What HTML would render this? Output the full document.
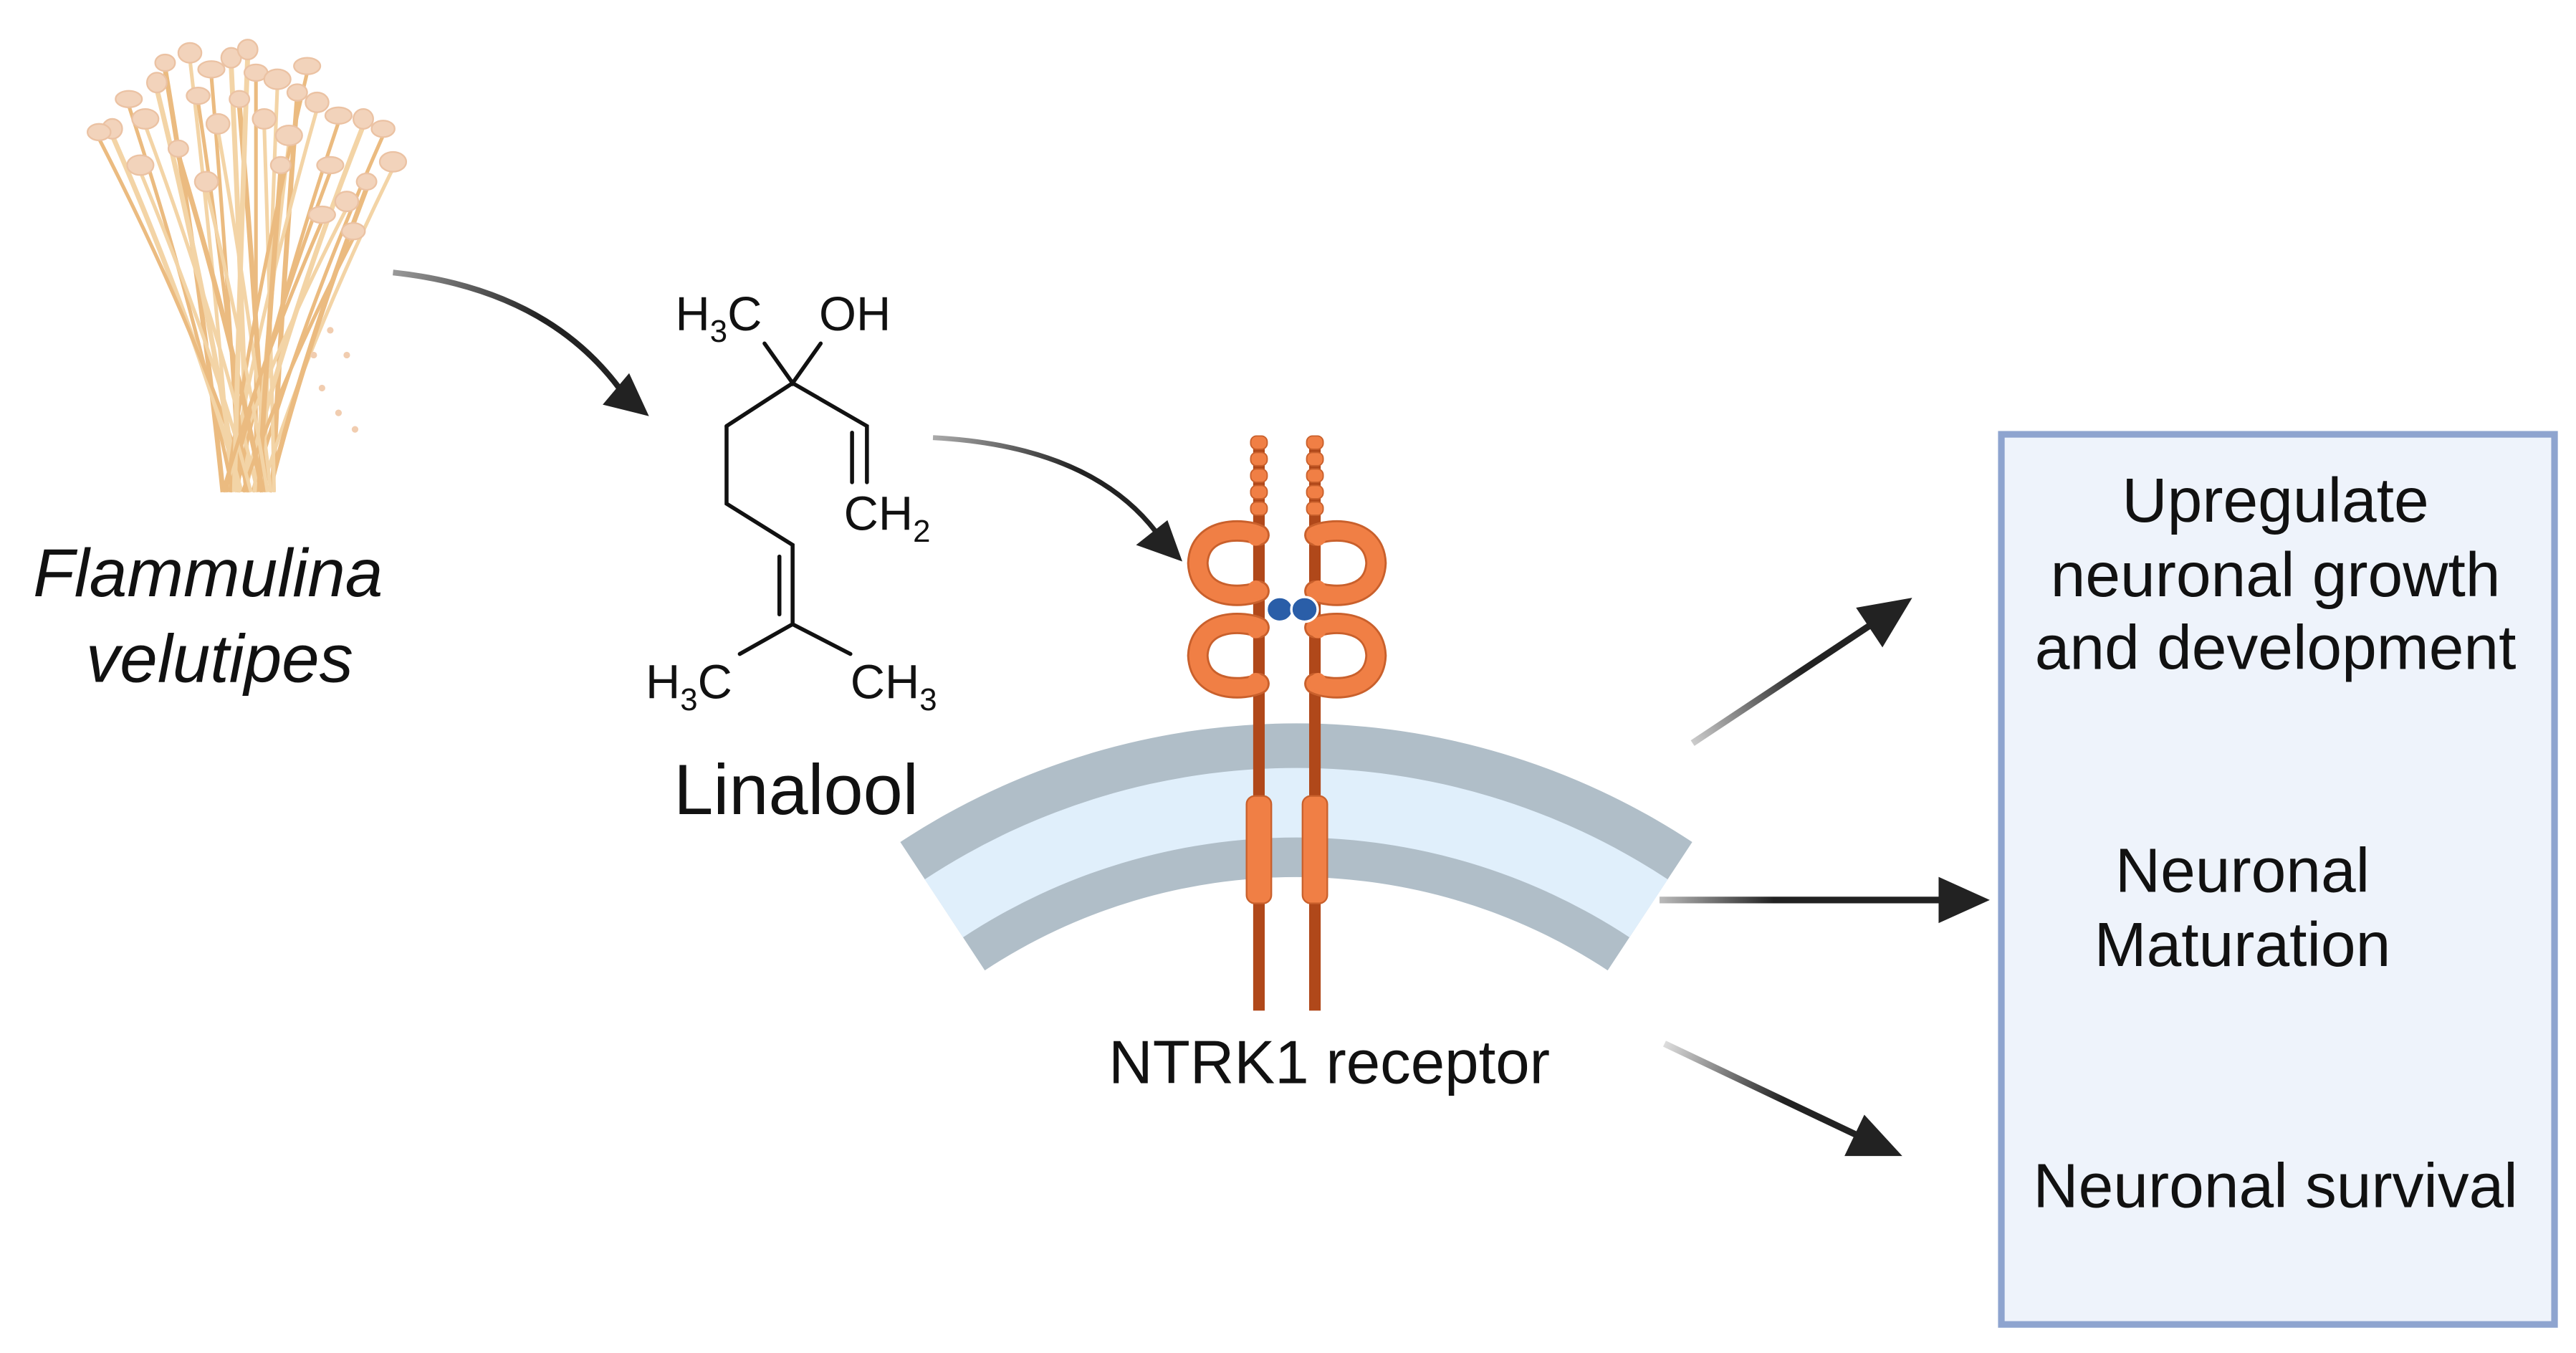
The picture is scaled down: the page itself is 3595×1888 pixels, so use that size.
<!DOCTYPE html>
<html><head><meta charset="utf-8"><style>
html,body{margin:0;padding:0;background:#fff}
svg{display:block}
text{font-family:"Liberation Sans",sans-serif;fill:#111}
</style></head><body>
<svg id="s" width="3595" height="1888" viewBox="0 0 1560 819.3" preserveAspectRatio="none" xmlns="http://www.w3.org/2000/svg">
<defs>
<linearGradient id="ga" gradientUnits="userSpaceOnUse" x1="1025" y1="450" x2="1135" y2="377"><stop offset="0" stop-color="#ccc"/><stop offset="0.6" stop-color="#222"/></linearGradient>
<linearGradient id="gb" gradientUnits="userSpaceOnUse" x1="1005" y1="545" x2="1178" y2="545"><stop offset="0" stop-color="#bbb"/><stop offset="0.4" stop-color="#222"/></linearGradient>
<linearGradient id="gc" gradientUnits="userSpaceOnUse" x1="1008" y1="632" x2="1128" y2="689"><stop offset="0" stop-color="#ddd"/><stop offset="0.6" stop-color="#222"/></linearGradient>
<linearGradient id="g1" gradientUnits="userSpaceOnUse" x1="238" y1="165" x2="375" y2="235"><stop offset="0" stop-color="#999"/><stop offset="0.6" stop-color="#222"/></linearGradient>
<linearGradient id="g2" gradientUnits="userSpaceOnUse" x1="565" y1="265" x2="700" y2="322"><stop offset="0" stop-color="#aaa"/><stop offset="0.6" stop-color="#222"/></linearGradient>
</defs>
<g id="mush"></g>

<text x="20" y="361" font-size="41" font-style="italic">Flammulina</text>
<text x="133" y="413" font-size="41" font-style="italic" text-anchor="middle">velutipes</text>

<path d="M238,165 Q330,175 375,235" fill="none" stroke="url(#g1)" stroke-width="3.5"/>
<polygon points="393,252 365,245 381,226" fill="#222"/>
<path d="M565,265 Q660,270 700,322" fill="none" stroke="url(#g2)" stroke-width="3"/>
<polygon points="716,340 688,330 707,315" fill="#222"/>

<g stroke="#111" stroke-width="2.4" fill="none" stroke-linecap="round">
<polyline points="463,208 480,232 497,208"/>
<polyline points="440,258 480,232 525,258 525,292"/>
<line x1="516" y1="262" x2="516" y2="292"/>
<polyline points="440,258 440,305 480,330 480,378 448,396"/>
<line x1="480" y1="378" x2="515" y2="396"/>
<line x1="472" y1="337" x2="472" y2="372"/>
</g>
<g font-size="29">
<text x="409" y="200">H<tspan font-size="19" dy="7">3</tspan><tspan dy="-7">C</tspan></text>
<text x="496" y="200">OH</text>
<text x="511" y="321">CH<tspan font-size="19" dy="7">2</tspan></text>
<text x="391" y="423">H<tspan font-size="19" dy="7">3</tspan><tspan dy="-7">C</tspan></text>
<text x="515" y="423">CH<tspan font-size="19" dy="7">3</tspan></text>
</g>
<text x="408" y="493" font-size="43">Linalool</text>

<path d="M545.2,509.9 A436,436 0 0 1 1024.8,509.9 L973.6,587.6 A343,343 0 0 0 596.4,587.6 Z" fill="#b0bec8"/>
<path d="M560,532.5 A409,409 0 0 1 1010,532.5 L986.8,567.6 A367,367 0 0 0 583.2,567.6 Z" fill="#e0effb"/>

<g id="rec"></g>

<text x="805" y="656" font-size="37" text-anchor="middle">NTRK1 receptor</text>

<line x1="1025" y1="450" x2="1135" y2="377" stroke="url(#ga)" stroke-width="4"/>
<polygon points="1158,362 1124,368 1140,392" fill="#222"/>
<line x1="1005" y1="545" x2="1178" y2="545" stroke="url(#gb)" stroke-width="4"/>
<polygon points="1205,545 1174,531 1174,559" fill="#222"/>
<line x1="1008" y1="632" x2="1128" y2="689" stroke="url(#gc)" stroke-width="4"/>
<polygon points="1152,700 1129,675 1117,700" fill="#222"/>

<rect x="1212" y="263" width="335" height="539" fill="#eef3fb" stroke="#8ea4cf" stroke-width="4"/>
<g font-size="38" text-anchor="middle">
<text x="1378" y="316">Upregulate</text>
<text x="1378" y="361">neuronal growth</text>
<text x="1378" y="405">and development</text>
<text x="1358" y="540">Neuronal</text>
<text x="1358" y="585">Maturation</text>
<text x="1378" y="731">Neuronal survival</text>
</g>
</svg>
<script>
var NS="http://www.w3.org/2000/svg";
function el(p,t,a){var e=document.createElementNS(NS,t);for(var k in a)e.setAttribute(k,a[k]);p.appendChild(e);return e;}
var m=document.getElementById("mush");
var caps=[[100,38],[115,32],[128,42],[140,35],[155,44],[168,48],[180,56],[192,62],[205,70],[220,72],[232,78],[238,98],[222,110],[210,122],[78,60],[68,78],[60,80],[88,72],[145,60],[160,72],[200,100],[95,50],[120,58],[175,82],[108,90],[132,75],[186,40],[150,30],[214,140],[85,100],[170,100],[125,110],[195,130]];
caps.forEach(function(c,i){var bx=135+(i*5)%32,by=298;
var cx=bx+(c[0]-bx)*0.35, cy=(by+c[1])/2+10;
el(m,"path",{d:"M"+bx+","+by+" Q"+cx+","+cy+" "+c[0]+","+(c[1]+4),fill:"none",stroke:i%2?"#f3d4a6":"#ebbb80","stroke-width":i%3?2.2:3});});
caps.forEach(function(c,i){el(m,"ellipse",{cx:c[0],cy:c[1],rx:6+(i%3),ry:5+(i%2),fill:"#f2d3bb",stroke:"#ebc2a3","stroke-width":1});});
[[200,200],[210,215],[195,235],[205,250],[215,260],[190,215]].forEach(function(d){el(m,"circle",{cx:d[0],cy:d[1],r:2,fill:"#f1cdb0"});});
var r=document.getElementById("rec");
[[762.4,-1],[796.3,1]].forEach(function(p){var x=p[0],d=p[1];
el(r,"line",{x1:x,y1:265,x2:x,y2:612,stroke:"#b0481a","stroke-width":7});
for(var i=0;i<5;i++){el(r,"rect",{x:x-5,y:264+i*10,width:10,height:8,rx:3.5,fill:"#f07f45",stroke:"#c9602c","stroke-width":0.8});}
[[324,358],[380,414]].forEach(function(y){
var b=x+d*40, t=x-d*8;
var dd="M"+x+","+y[0]+" C"+(x+d*8)+","+(y[0]-4)+" "+(x+d*36)+","+(y[0]-6)+" "+(x+d*37)+","+((y[0]+y[1])/2)+" C"+(x+d*36)+","+(y[1]+6)+" "+(x+d*8)+","+(y[1]+4)+" "+x+","+y[1];
el(r,"path",{d:dd,fill:"none",stroke:"#c9602c","stroke-width":13,"stroke-linecap":"round"});
el(r,"path",{d:dd,fill:"none",stroke:"#f07f45","stroke-width":10.5,"stroke-linecap":"round"});
el(r,"ellipse",{cx:x+d*2,cy:y[0]+1,rx:5,ry:5.5,fill:"#f07f45"});
el(r,"ellipse",{cx:x+d*2,cy:y[1]-1,rx:5,ry:5.5,fill:"#f07f45"});
});
el(r,"rect",{x:x-7.5,y:482,width:15,height:65,rx:5,fill:"#f07f45",stroke:"#c9602c","stroke-width":1});
});
el(r,"ellipse",{cx:775,cy:369,rx:8,ry:7.5,fill:"#2a5ea8",stroke:"#fff","stroke-width":1.5});
el(r,"ellipse",{cx:790,cy:369,rx:8,ry:7.5,fill:"#2a5ea8",stroke:"#fff","stroke-width":1.5});
</script>
</body></html>
